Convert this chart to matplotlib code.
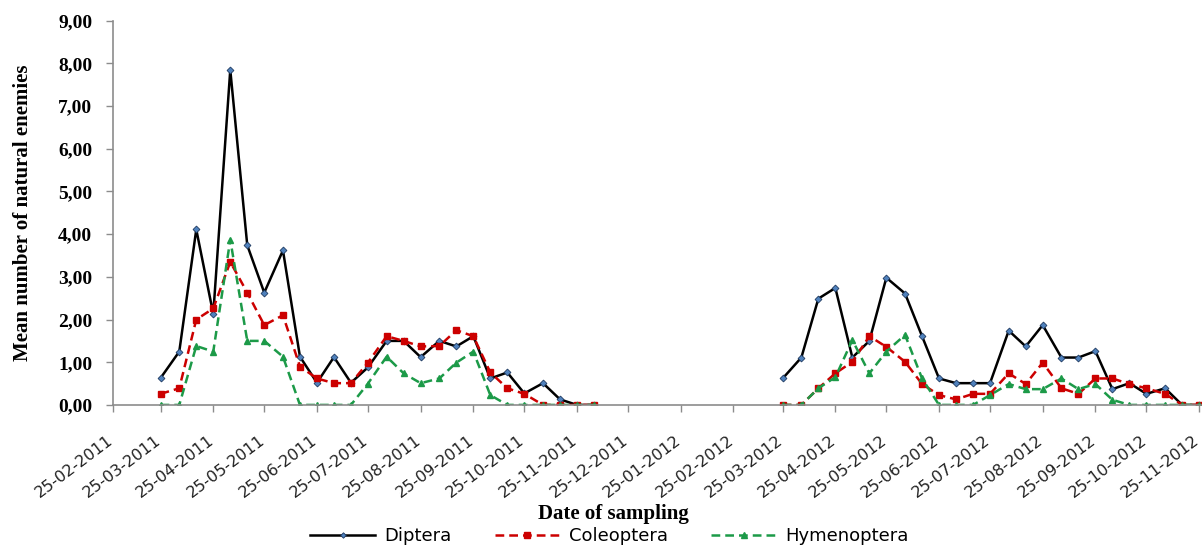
import matplotlib
matplotlib.use("Agg")
import matplotlib.pyplot as plt
import matplotlib.dates as mdates
import matplotlib.ticker as mticker
import matplotlib.transforms as mtransforms
import pandas as pd
import numpy as np

# sampling dates (roughly every 10 days)
dates_2011 = ["2011-03-25", "2011-04-05", "2011-04-15", "2011-04-25", "2011-05-05",
              "2011-05-15", "2011-05-25", "2011-06-05", "2011-06-15", "2011-06-25",
              "2011-07-05", "2011-07-15", "2011-07-25", "2011-08-05", "2011-08-15",
              "2011-08-25", "2011-09-05", "2011-09-15", "2011-09-25", "2011-10-05",
              "2011-10-15", "2011-10-25", "2011-11-05", "2011-11-15", "2011-11-25",
              "2011-12-05"]
dates_2012 = ["2012-03-25", "2012-04-05", "2012-04-15", "2012-04-25", "2012-05-05",
              "2012-05-15", "2012-05-25", "2012-06-05", "2012-06-15", "2012-06-25",
              "2012-07-05", "2012-07-15", "2012-07-25", "2012-08-05", "2012-08-15",
              "2012-08-25", "2012-09-05", "2012-09-15", "2012-09-25", "2012-10-05",
              "2012-10-15", "2012-10-25", "2012-11-05", "2012-11-15", "2012-11-25"]

diptera_2011 = [0.63, 1.25, 4.11, 2.13, 7.85, 3.74, 2.63, 3.62, 1.13, 0.52, 1.12, 0.52, 0.88,
                1.50, 1.50, 1.12, 1.50, 1.37, 1.61, 0.62, 0.76, 0.27, 0.51, 0.13, 0.00, 0.00]
coleoptera_2011 = [0.26, 0.39, 2.00, 2.26, 3.35, 2.63, 1.87, 2.10, 0.90, 0.62, 0.51, 0.51, 0.99,
                   1.61, 1.50, 1.37, 1.38, 1.75, 1.61, 0.76, 0.39, 0.26, 0.00, 0.00, 0.00, 0.00]
hymenoptera_2011 = [0.00, 0.00, 1.38, 1.25, 3.87, 1.50, 1.50, 1.13, 0.00, 0.00, 0.00, 0.00, 0.50,
                    1.13, 0.74, 0.51, 0.62, 0.99, 1.25, 0.23, 0.00, 0.00, 0.00, 0.00, 0.00, 0.00]

diptera_2012 = [0.62, 1.11, 2.49, 2.74, 1.11, 1.50, 2.98, 2.61, 1.61, 0.62, 0.51, 0.51, 0.51,
                1.74, 1.37, 1.87, 1.11, 1.11, 1.26, 0.37, 0.51, 0.26, 0.39, 0.00, 0.00]
coleoptera_2012 = [0.00, 0.00, 0.39, 0.74, 1.01, 1.61, 1.36, 1.01, 0.49, 0.23, 0.13, 0.26, 0.26,
                   0.74, 0.49, 0.99, 0.39, 0.26, 0.62, 0.62, 0.49, 0.39, 0.26, 0.00, 0.00]
hymenoptera_2012 = [0.00, 0.00, 0.39, 0.65, 1.52, 0.74, 1.25, 1.64, 0.62, 0.00, 0.00, 0.00, 0.23,
                    0.49, 0.37, 0.37, 0.62, 0.37, 0.49, 0.12, 0.00, 0.00, 0.00, 0.00, 0.00]

serif = "Liberation Serif"
sans = "DejaVu Sans"

fig = plt.figure(figsize=(12.02, 5.45), dpi=100)
ax = fig.add_axes([0.094, 0.257, 0.905, 0.705])

d1 = pd.to_datetime(dates_2011)
d2 = pd.to_datetime(dates_2012)

styles = [
    ("Diptera", diptera_2011, diptera_2012,
     dict(color="black", lw=1.8, ls="-", marker="D", ms=3.5, mfc="#4f81bd", mec="#1f3a60", mew=0.6)),
    ("Coleoptera", coleoptera_2011, coleoptera_2012,
     dict(color="#cc0000", lw=1.8, ls=(0, (3.5, 2)), marker="s", ms=5, mfc="#cc0000", mec="#cc0000")),
    ("Hymenoptera", hymenoptera_2011, hymenoptera_2012,
     dict(color="#1c9a48", lw=1.8, ls=(0, (3.5, 2)), marker="^", ms=5, mfc="#1c9a48", mec="#1c9a48")),
]

for name, y1, y2, st in styles:
    ax.plot(d1, y1, label=name, **st)
    ax.plot(d2, y2, **st)

ax.set_xlim(pd.Timestamp("2011-02-25"), pd.Timestamp("2012-11-26"))
ax.set_ylim(0, 9)
ax.yaxis.set_major_locator(mticker.MultipleLocator(1))
ax.yaxis.set_major_formatter(mticker.FuncFormatter(lambda v, p: f"{v:.2f}".replace(".", ",")))

ax.xaxis.set_major_locator(mdates.MonthLocator(bymonthday=25))
ax.xaxis.set_major_formatter(mdates.DateFormatter("%d-%m-%Y"))

for s in ["top", "right"]:
    ax.spines[s].set_visible(False)
for s in ["left", "bottom"]:
    ax.spines[s].set_color("#8c8c8c")
    ax.spines[s].set_linewidth(1.2)
ax.tick_params(axis="both", colors="#8c8c8c", length=5, width=1)
ax.tick_params(axis="y", labelcolor="black", pad=10)
ax.tick_params(axis="x", labelcolor="#222222", pad=15)

for lab in ax.get_yticklabels():
    lab.set_fontfamily(serif)
    lab.set_fontweight("bold")
    lab.set_fontsize(14)

# shift the slanted date labels a little to the left, as in the original
shift = mtransforms.ScaledTranslation(-0.06, 0, fig.dpi_scale_trans)
for lab in ax.get_xticklabels():
    lab.set_fontfamily(sans)
    lab.set_fontsize(11.5)
    lab.set_rotation(37)
    lab.set_ha("right")
    lab.set_va("top")
    lab.set_rotation_mode("anchor")
    lab.set_transform(lab.get_transform() + shift)

ax.set_ylabel("Mean number of natural enemies", fontfamily=serif, fontweight="bold",
              fontsize=15)
ax.yaxis.set_label_coords(-0.0735, 0.5)
fig.text(0.51, 0.056, "Date of sampling", fontfamily=serif, fontweight="bold",
         fontsize=15, ha="center", va="center")

fig.legend(loc="center", bbox_to_anchor=(0.507, 0.016), ncol=3, frameon=False,
           prop={"family": sans, "size": 13}, handlelength=3.6, columnspacing=2.4,
           handletextpad=0.5, markerscale=0.8, borderpad=0)

fig.savefig("out.png", dpi=100)
plt.close(fig)
